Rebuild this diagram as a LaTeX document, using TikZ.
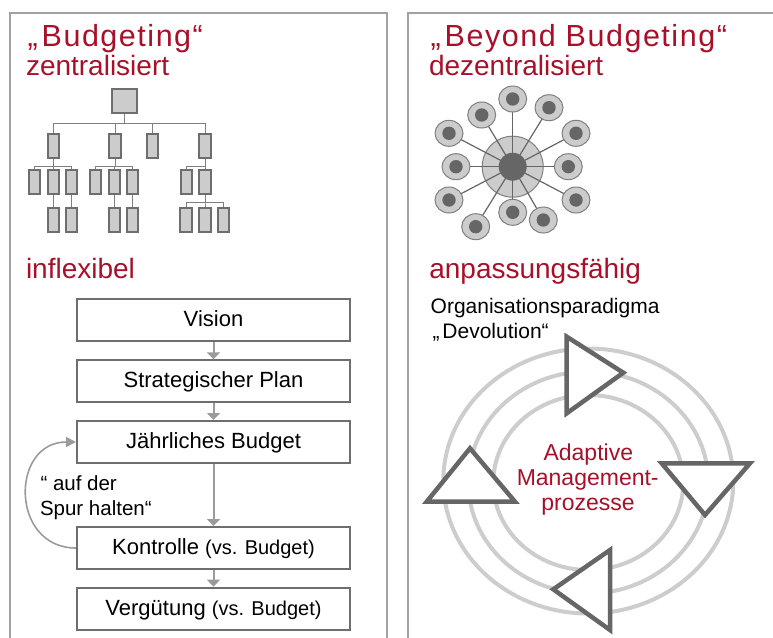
\documentclass[tikz,border=0pt]{standalone}
\usepackage{fontspec}
\setmainfont{Liberation Sans}
\usetikzlibrary{arrows.meta,shapes.geometric}
\definecolor{bbred}{HTML}{A8102A}
\definecolor{panelgray}{HTML}{A2A2A2}
\definecolor{boxedge}{HTML}{6E6E6E}
\definecolor{boxfill}{HTML}{CCCCCC}
\definecolor{arrowgray}{HTML}{9B9B9B}
\definecolor{ringgray}{HTML}{CDCDCD}
\definecolor{coregray}{HTML}{666666}
\definecolor{linegray}{HTML}{7F7F7F}
\newcommand{\fsz}[1]{\fontsize{#1}{#1}\selectfont}

\begin{document}
\begin{tikzpicture}[x=1pt,y=-1pt,
  txt/.style={inner sep=0pt, outer sep=0pt},
  heading/.style={txt, anchor=base west, text=bbred, font=\fsz{28}},
  bigtitle/.style={txt, anchor=base west, text=bbred, font=\fsz{30.5}\addfontfeature{LetterSpace=5}},
  plain/.style={txt, anchor=base west, font=\fsz{21}},
  orgbox/.style={draw=boxedge, fill=boxfill, line width=2pt, inner sep=0pt,
                 minimum width=11.3pt, minimum height=24pt},
  orgline/.style={draw=linegray, line width=1pt},
  hubring/.style={circle, draw=linegray, fill=boxfill, line width=1pt, minimum size=61pt, inner sep=0pt},
  hubcore/.style={circle, fill=coregray, minimum size=28pt, inner sep=0pt},
  spoke/.style={draw=coregray, line width=1.2pt},
  sat/.style={ellipse, draw=linegray, fill=boxfill, line width=1pt, minimum width=28pt, minimum height=26pt, inner sep=0pt},
  satdot/.style={circle, fill=coregray, minimum size=13.4pt, inner sep=0pt},
  flowbox/.style={draw=boxedge, line width=2pt, fill=white, minimum width=273pt, minimum height=42pt,
                  inner sep=0pt, font=\fsz{22}, text height=15pt, text depth=2pt},
  flowarrow/.style={draw=arrowgray, line width=2pt, -{Triangle[length=7pt,width=13pt]}},
  looparrow/.style={draw=arrowgray, line width=1.6pt, -{Triangle[length=10pt,width=10pt]}},
  ring/.style={draw=ringgray, line width=4pt},
  cycletri/.style={draw=coregray, fill=white, line width=4.5pt, line join=miter}
]
\useasboundingbox (0,0) rectangle (773,637);

% two framed panels, open at the bottom
\draw[panelgray, line width=2pt] (9.5,640) |- (387,12.5) -- (387,640);
\draw[panelgray, line width=2pt] (408.3,640) |- (776,12.5);

% ---------- left panel ----------
\node[bigtitle] (titleL) at (27.5,46.7) {„\kern4pt Budgeting“};
\node[heading] (subL) at (26,75) {zentralisiert};

% hierarchy
\node[orgbox, minimum width=24.7pt, minimum height=24.3pt] (o0) at (124.3,100.8) {};
\foreach \n/\x in {o1/53.3, o2/115, o3/152.7, o4/205}
  \node[orgbox] (\n) at (\x,146.3) {};
\foreach \n/\x in {a1/34.3, a2/53.3, a3/71.7, b1/95.7, b2/114.3, b3/132.7, d1/186.7, d2/205}
  \node[orgbox] (\n) at (\x,182.2) {};
\foreach \n/\x in {a2x/53.3, a3x/71.7, b2x/114.3, b3x/132.7, e1/186, e2/205, e3/223.3}
  \node[orgbox] (\n) at (\x,219.5) {};

\foreach \c in {o1,o2,o3,o4}
  \draw[orgline] (o0.south) -- ++(0,9.7) -| (\c.north);
\foreach \c in {a1,a2,a3}
  \draw[orgline] (o1.south) -- ++(0,6.7) -| (\c.north);
\foreach \c in {b1,b2,b3}
  \draw[orgline] (o2.south) -- ++(0,6.7) -| (\c.north);
\foreach \c in {d1,d2}
  \draw[orgline] (o4.south) -- ++(0,6.7) -| (\c.north);
\draw[orgline] (a2.south) -- (a2x.north);
\draw[orgline] (a3.south) -- (a3x.north);
\draw[orgline] (b2.south) -- (b2x.north);
\draw[orgline] (b3.south) -- (b3x.north);
\foreach \c in {e1,e2,e3}
  \draw[orgline] (d2.south) -- ++(0,7.5) -| (\c.north);

\node[heading] (flexL) at (26,278.3) {inflexibel};

% budgeting cycle
\node[flowbox] (vis)   at (213.5,320.3) {Vision};
\node[flowbox] (strat) at (213.5,381.3) {Strategischer Plan};
\node[flowbox] (jahr)  at (213.5,442)   {Jährliches Budget};
\node[flowbox] (kontr) at (213.5,548)   {Kontrolle {\fsz{20}(vs. Budget)}};
\node[flowbox] (verg)  at (213.5,608.7) {Vergütung {\fsz{20}(vs. Budget)}};

\draw[flowarrow] (vis.south) -- (strat.north);
\draw[flowarrow] (strat.south) -- (jahr.north);
\draw[flowarrow] (jahr.south) -- (kontr.north);
\draw[flowarrow] (kontr.south) -- (verg.north);
\draw[looparrow] (kontr.west) .. controls +(-66,0) and +(-66,0) .. (jahr.west);

\node[txt, anchor=base west, font=\fsz{20.5}] (loopA) at (40.5,490.7) {“ auf der};
\node[txt, anchor=base west, font=\fsz{20.5}] (loopB) at (40,515) {Spur halten“};

% ---------- right panel ----------
\node[bigtitle] (titleR) at (430.5,46.7) {„\kern4pt Beyond Budgeting“};
\node[heading] (subR) at (429,75) {dezentralisiert};

% network of units around a hub
\foreach \i/\x/\y in {1/512.7/99, 2/549/107.7, 3/481.7/115, 4/576/133.3, 5/449/133.3,
                      6/456/166.7, 7/568.3/166.7, 8/449/200, 9/576/200, 10/512.7/212.3,
                      11/543.3/220, 12/475.7/226.7}
  \coordinate (p\i) at (\x,\y);
\node[hubring] (hub) at (512.7,166.7) {};
\foreach \i in {1,...,12}
  \draw[spoke] (hub.center) -- (p\i);
\node[hubcore] (core) at (hub.center) {};
\foreach \i in {1,...,12} {
  \node[sat] (s\i) at (p\i) {};
  \node[satdot] (sd\i) at (p\i) {};
}

\node[heading] (flexR) at (429.3,278.3) {anpassungsfähig};
\node[plain] (orgA) at (430.7,313.3) {Organisationsparadigma};
\node[plain] (orgB) at (432.5,338.3) {„\kern3pt Devolution“};

% adaptive management rings
\draw[ring] (588.3,481) ellipse [x radius=145pt, y radius=132.5pt];
\draw[ring] (588.3,482.5) ellipse [x radius=120pt, y radius=111pt];
\draw[ring] (588.3,482.5) ellipse [x radius=95pt, y radius=87.5pt];

\draw[cycletri] (566.7,336.7) -- (566.7,413.3) -- (623.3,372.7) -- cycle;
\draw[cycletri] (661.7,463.3) -- (750,463.3) -- (705,515) -- cycle;
\draw[cycletri] (610,550) -- (610,630) -- (553.3,589.3) -- cycle;
\draw[cycletri] (470,448.3) -- (426.7,501.7) -- (515,501.7) -- cycle;

\node[txt, anchor=base, text=bbred, font=\fsz{23}] (adA) at (588.3,460.5) {Adaptive};
\node[txt, anchor=base, text=bbred, font=\fsz{23}] (adB) at (587.7,485.5) {Management-};
\node[txt, anchor=base, text=bbred, font=\fsz{23}] (adC) at (588,510) {prozesse};
\end{tikzpicture}
\end{document}
